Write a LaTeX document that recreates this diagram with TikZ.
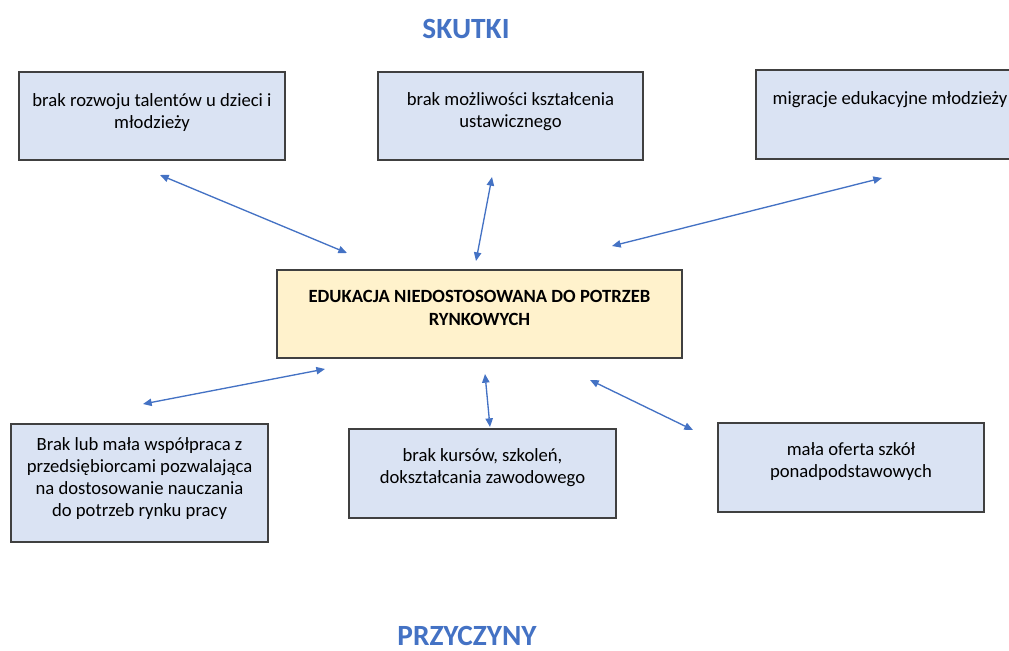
\documentclass[tikz,border=0pt]{standalone}
\usepackage{fontspec}
\setmainfont{Carlito}
\usetikzlibrary{arrows.meta}
\definecolor{niebieski}{HTML}{4472C4}
\definecolor{ramkaszara}{HTML}{404040}
\definecolor{skutekfill}{HTML}{DAE3F3}
\definecolor{problemfill}{HTML}{FFF2CC}
\newlength\pxu
\setlength\pxu{0.75pt}
% box text: [first baseline]{width px}{height px}{text}
\newcommand{\tresc}[4][25pt]{\parbox[c][#3\pxu][t]{#2\pxu}{\centering\rule{0pt}{#1}#4\par}}
\tikzset{
  ramka/.style={draw=ramkaszara, line width=0.8pt, fill=skutekfill, inner sep=0pt,
    font=\fontsize{14}{16.5}\selectfont},
  problem/.style={ramka, fill=problemfill, font=\fontsize{14}{17}\selectfont\bfseries},
  tytul/.style={text=niebieski, font=\fontsize{22}{24}\selectfont\bfseries, inner sep=0pt},
  strzalka/.style={draw=niebieski, line width=1pt, {Triangle[length=6.5pt,width=5.5pt]}-{Triangle[length=6.5pt,width=5.5pt]}}
}
\begin{document}
\begin{tikzpicture}[x=0.75pt,y=-0.75pt]
    \useasboundingbox (0,0) rectangle (1009,650);
    \clip (0,0) rectangle (1009,650);
    % titles
    \node[tytul] (skutki) at (466,28.5) {SKUTKI};
    \node[tytul] (przyczyny) at (467,636) {PRZYCZYNY};
    % effects
    \node[ramka] (rozwoj) at (152,116) {\tresc[26pt]{266}{88}{brak rozwoju talentów u dzieci i\\młodzieży}};
    \node[ramka] (ksztalcenie) at (510.5,116) {\tresc{265}{88}{brak możliwości kształcenia\\ustawicznego}};
    \node[ramka] (migracje) at (890,114.5) {\tresc[26pt]{268}{89}{migracje edukacyjne młodzieży}};
    % problem
    \node[problem] (edukacja) at (479.5,314) {\tresc[24.5pt]{405}{88}{EDUKACJA NIEDOSTOSOWANA DO POTRZEB\\RYNKOWYCH}};
    % causes
    \node[ramka] (wspolpraca) at (139.5,483) {\tresc[19.5pt]{257}{118}{Brak lub mała współpraca z\\przedsiębiorcami pozwalająca\\na dostosowanie nauczania\\do potrzeb rynku pracy}};
    \node[ramka] (kursy) at (482.5,473.5) {\tresc[24.5pt]{267}{89}{brak kursów, szkoleń,\\dokształcania zawodowego}};
    \node[ramka] (oferta) at (851,467.5) {\tresc[24pt]{266}{89}{mała oferta szkół\\ponadpodstawowych}};
    % arrow ends
    \coordinate (r1) at (160,175); \coordinate (r2) at (347,253);
    \coordinate (k1) at (492,177); \coordinate (k2) at (476,261);
    \coordinate (m1) at (882,178); \coordinate (m2) at (612,246);
    \coordinate (w1) at (143,404); \coordinate (w2) at (325,369);
    \coordinate (u1) at (485,374); \coordinate (u2) at (490,427);
    \coordinate (o1) at (590,380); \coordinate (o2) at (693,430);
    % arrows
    \foreach \a/\b in {r1/r2, k1/k2, m1/m2, w1/w2, u1/u2, o1/o2}
        \draw[strzalka] (\a) -- (\b);
\end{tikzpicture}
\end{document}
